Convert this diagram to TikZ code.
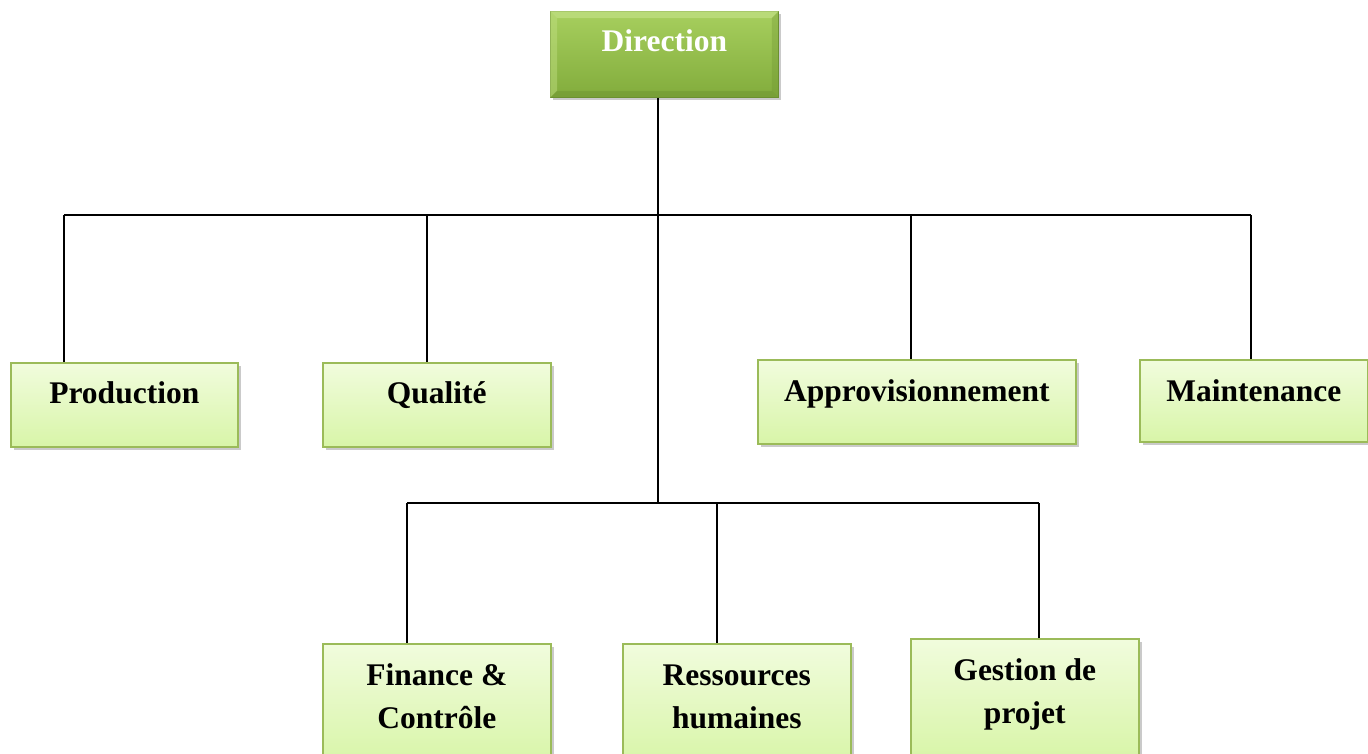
\documentclass[tikz,border=0pt]{standalone}
\usepackage{fontspec}
\setmainfont{Liberation Serif}
\usetikzlibrary{shadows}
\definecolor{boxborder}{HTML}{9BBB59}
\definecolor{boxtop}{HTML}{F1FCDD}
\definecolor{boxbottom}{HTML}{D8F5A8}
\definecolor{dirtop}{HTML}{A7CF5E}
\definecolor{dirbottom}{HTML}{82AC3C}
\definecolor{dirlight}{HTML}{C2E085}
\definecolor{dirdark}{HTML}{6B9030}
\tikzset{
  unitbox/.style={draw=boxborder, line width=1.6pt, top color=boxtop, bottom color=boxbottom,
    inner sep=0pt, align=center, anchor=north west, minimum width=228pt,
    font=\fontsize{31.5}{43}\selectfont\bfseries,
    drop shadow={shadow xshift=3pt, shadow yshift=-3pt, opacity=0.35, fill=black!60}},
  headbox/.style={draw=dirdark, line width=0.8pt, top color=dirtop, bottom color=dirbottom,
    inner sep=0pt, align=center, anchor=north west, minimum width=228pt, text=white,
    font=\fontsize{31.5}{43}\selectfont\bfseries,
    drop shadow={shadow xshift=3pt, shadow yshift=-3pt, opacity=0.35, fill=black!60}},
  link/.style={line width=1.6pt, black}
}
\begin{document}
\begin{tikzpicture}[x=1pt, y=-1pt]
\useasboundingbox (0,0) rectangle (1368,753);

% top box
\node[headbox, text height=40.5pt, text depth=45.5pt] (dir) at (550,11) {Direction};
% bevel edges of the top box
\fill[dirlight, opacity=0.7] (dir.north west) -- (dir.north east) -- ([xshift=-7pt,yshift=-7pt]dir.north east) -- ([xshift=7pt,yshift=-7pt]dir.north west) -- cycle;
\fill[dirlight, opacity=0.45] (dir.north west) -- ([xshift=7pt,yshift=-7pt]dir.north west) -- ([xshift=7pt,yshift=7pt]dir.south west) -- (dir.south west) -- cycle;
\fill[dirdark, opacity=0.45] (dir.south west) -- (dir.south east) -- ([xshift=-7pt,yshift=7pt]dir.south east) -- ([xshift=7pt,yshift=7pt]dir.south west) -- cycle;
\fill[dirdark, opacity=0.3] (dir.north east) -- ([xshift=-7pt,yshift=-7pt]dir.north east) -- ([xshift=-7pt,yshift=7pt]dir.south east) -- (dir.south east) -- cycle;

% first row of departments
\node[unitbox, text height=40.5pt, text depth=43.5pt, minimum width=227pt] (prod) at (10,362) {Production};
\node[unitbox, text height=40.5pt, text depth=43.5pt] (qual) at (322,362) {Qualité};
\node[unitbox, text height=41.5pt, text depth=42.5pt, minimum width=318pt] (appro) at (757,359) {Approvisionnement};
\node[unitbox, text height=41.5pt, text depth=40.5pt] (maint) at (1139,359) {Maintenance};

% second row of departments (text height is measured to the last line)
\node[unitbox, text height=84.5pt, text depth=35.5pt] (fin) at (322,643) {Finance \&\\Contrôle};
\node[unitbox, text height=84.5pt, text depth=35.5pt] (rh) at (622,643) {Ressources\\humaines};
\node[unitbox, text height=84.4pt, text depth=35.6pt] (gp) at (910,638) {Gestion de\\projet};

% junction points and drop positions
\coordinate (j1) at (658,215);
\coordinate (j2) at (658,503);
\coordinate (dprod) at (64,215);
\coordinate (dqual) at (427,215);
\coordinate (dappro) at (911,215);
\coordinate (dmaint) at (1251,215);
\coordinate (dfin) at (407,503);
\coordinate (drh) at (717,503);
\coordinate (dgp) at (1039,503);

% connectors
\draw[link] (dir.south -| j1) -- (j2);
\draw[link] (dprod) -- (dmaint);
\draw[link] (dprod) -- (dprod |- prod.north);
\draw[link] (dqual) -- (dqual |- qual.north);
\draw[link] (dappro) -- (dappro |- appro.north);
\draw[link] (dmaint) -- (dmaint |- maint.north);
\draw[link] (dfin) -- (dgp);
\draw[link] (dfin) -- (dfin |- fin.north);
\draw[link] (drh) -- (drh |- rh.north);
\draw[link] (dgp) -- (dgp |- gp.north);
\end{tikzpicture}
\end{document}
